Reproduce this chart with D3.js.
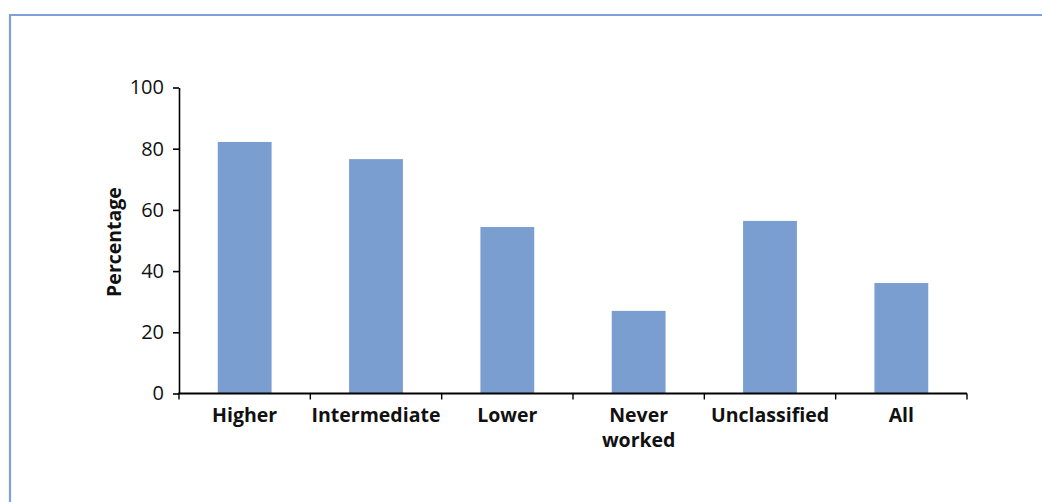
<!DOCTYPE html>
<html>
<head>
<meta charset="utf-8">
<script src="https://cdn.jsdelivr.net/npm/d3@7"></script>
<style>
  html, body { margin: 0; padding: 0; background: #fff; }
  svg { display: block; }
  .tick text { font-family: "Open Sans", "Noto Sans", sans-serif; }
</style>
</head>
<body>
<svg id="chart" width="1042" height="502"></svg>
<script>
// Share by social class
const categories = ["Higher", "Intermediate", "Lower", "Never worked", "Unclassified", "All"];
const values = [82.2, 76.6, 54.4, 27.0, 56.4, 36.1];
const yTicks = [0, 20, 40, 60, 80, 100];

const svg = d3.select("#chart");
const W = 1042, H = 502;
const margin = { left: 179, right: W - 967, top: 87.5, bottom: H - 393.5 };
const barColor = "#7b9ed1";

// frame around the figure (open at right and bottom)
svg.append("path")
  .attr("d", `M10,${H} L10,15 L${W},15`)
  .attr("fill", "none")
  .attr("stroke", "#7da0d8")
  .attr("stroke-width", 2.2);

const x = d3.scaleBand()
  .domain(categories)
  .range([margin.left, W - margin.right])
  .paddingInner(0.59)
  .paddingOuter(0.295);

const y = d3.scaleLinear()
  .domain([0, 100])
  .range([H - margin.bottom, margin.top]);

// bars
svg.append("g")
  .selectAll("rect")
  .data(categories)
  .join("rect")
  .attr("x", d => x(d))
  .attr("width", x.bandwidth())
  .attr("y", (d, i) => y(values[i]))
  .attr("height", (d, i) => y(0) - y(values[i]))
  .attr("fill", barColor);

// y axis
const yAxis = svg.append("g")
  .attr("transform", `translate(${margin.left},0)`)
  .call(d3.axisLeft(y).tickValues(yTicks).tickSize(6).tickSizeOuter(0).tickPadding(9));
yAxis.selectAll("path, line").attr("stroke", "#000").attr("stroke-width", 1.6);
yAxis.selectAll("text")
  .attr("font-size", 20)
  .attr("fill", "#111");

// x axis with ticks at band boundaries
const xBase = y(0);
const step = x.step();
const left = margin.left, right = W - margin.right;
svg.append("line")
  .attr("x1", left - 0.8).attr("x2", right)
  .attr("y1", xBase).attr("y2", xBase)
  .attr("stroke", "#000").attr("stroke-width", 2);
const boundaries = d3.range(categories.length + 1).map(i => left + i * step);
svg.append("g").selectAll("line")
  .data(boundaries)
  .join("line")
  .attr("x1", d => d).attr("x2", d => d)
  .attr("y1", xBase).attr("y2", xBase + 6)
  .attr("stroke", "#000").attr("stroke-width", 1.4);

// category labels (wrapped)
const labelLines = {
  "Never worked": ["Never", "worked"]
};
const catLabels = svg.append("g")
  .attr("font-family", "'Open Sans', 'Noto Sans', sans-serif")
  .attr("font-weight", "bold")
  .attr("font-size", 19.5)
  .attr("fill", "#111")
  .attr("text-anchor", "middle");
categories.forEach(c => {
  const lines = labelLines[c] || [c];
  const t = catLabels.append("text")
    .attr("x", x(c) + x.bandwidth() / 2)
    .attr("y", xBase + 28);
  lines.forEach((ln, i) => {
    t.append("tspan")
      .attr("x", x(c) + x.bandwidth() / 2)
      .attr("dy", i === 0 ? 0 : 25)
      .text(ln);
  });
});

// y axis title
svg.append("text")
  .attr("transform", `translate(121,242) rotate(-90)`)
  .attr("text-anchor", "middle")
  .attr("font-family", "'Open Sans', 'Noto Sans', sans-serif")
  .attr("font-weight", "bold")
  .attr("font-size", 19.5)
  .attr("fill", "#111")
  .text("Percentage");
</script>
</body>
</html>
